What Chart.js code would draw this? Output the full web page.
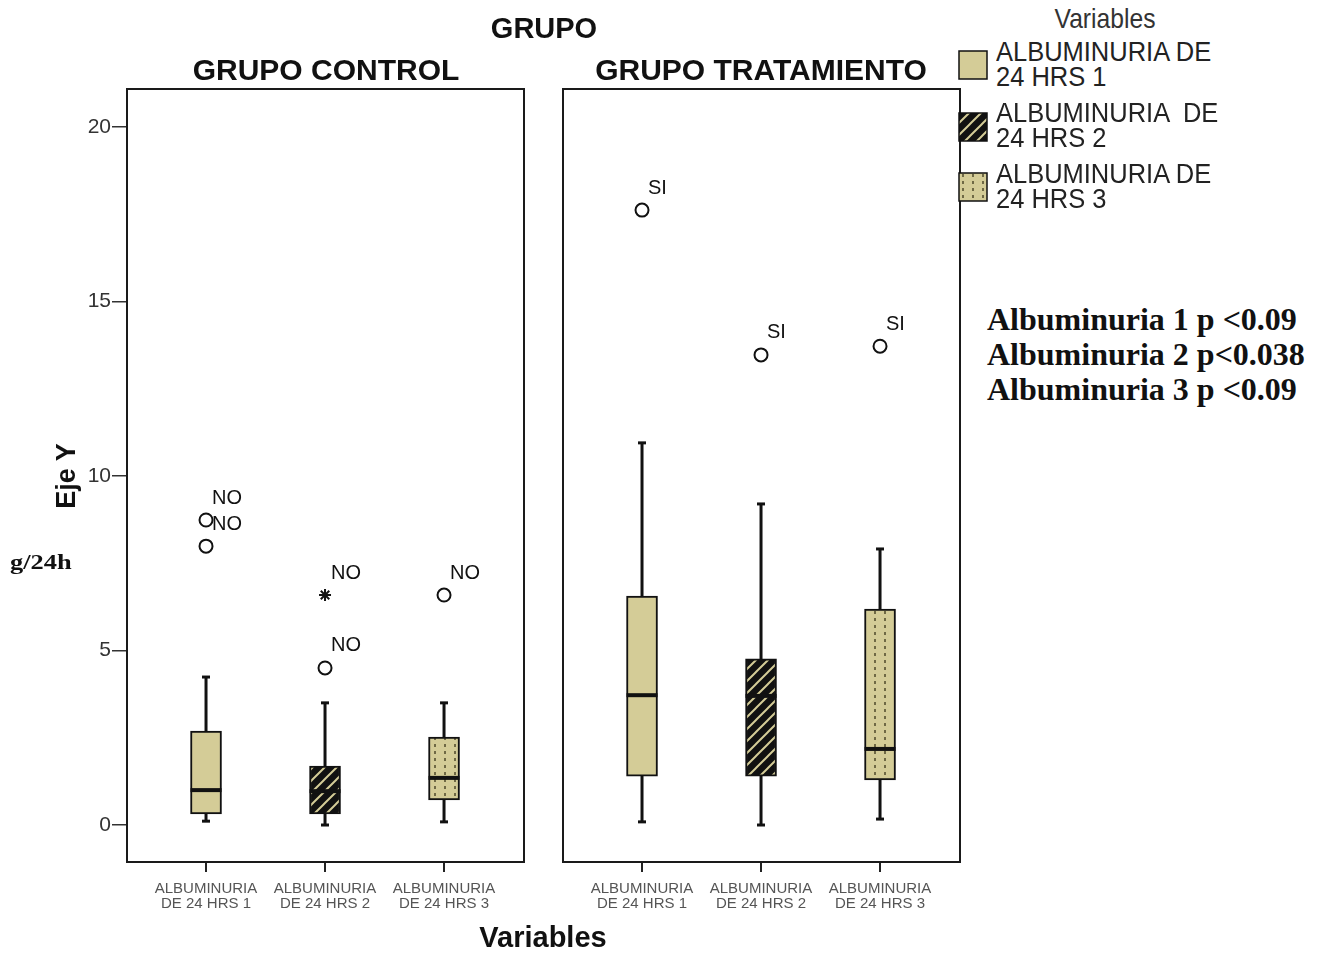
<!DOCTYPE html>
<html>
<head>
<meta charset="utf-8">
<script src="https://cdn.jsdelivr.net/npm/chart.js@4.4.1/dist/chart.umd.min.js"></script>
<style>
    body { margin: 0; background: #fff; width: 1325px; height: 954px; position: relative; overflow: hidden;
           font-family: "Liberation Sans", Arial, sans-serif; color: #111; }
    canvas { position: absolute; top: 0; }
    #controlChart { left: 0; }
    #tratChart { left: 540px; }
    .txt { position: absolute; white-space: nowrap; z-index: 2; }
    .center { transform: translate(-50%, -50%); }
    .title { font-weight: bold; font-size: 29px; }
    .panelTitle { font-weight: bold; font-size: 30px; }
    .legendItem { position: absolute; left: 996px; font-size: 28px; line-height: 25px; color: #222;
                  transform: scaleX(0.91); transform-origin: left top; white-space: pre; z-index: 2; }
    .swatch { position: absolute; left: 958px; z-index: 2; }
    .note { font-family: "Liberation Serif", "Times New Roman", serif; font-weight: bold; }
</style>
</head>
<body>
<canvas id="controlChart" width="540" height="954"></canvas>
<canvas id="tratChart" width="440" height="954"></canvas>

<div class="txt title center" style="left:544px; top:28px;">GRUPO</div>
<div class="txt panelTitle center" style="left:326px; top:70px;">GRUPO CONTROL</div>
<div class="txt panelTitle center" style="left:761px; top:70px;">GRUPO TRATAMIENTO</div>
<div class="txt title center" style="left:543px; top:937px;">Variables</div>
<div class="txt center" style="left:66px; top:476px; font-weight:bold; font-size:27px; transform:translate(-50%,-50%) rotate(-90deg);">Eje Y</div>
<div class="txt note" style="left:10px; top:549px; font-size:22px; transform:scaleX(1.2); transform-origin:left top;">g/24h</div>
<div class="txt center" style="left:1105px; top:19px; font-size:28px; color:#333; transform:translate(-50%,-50%) scaleX(0.88);">Variables</div>
<div class="txt note" style="left:987px; top:302px; font-size:32px; line-height:35px;">
    Albuminuria 1 p &lt;0.09<br>Albuminuria 2 p&lt;0.038<br>Albuminuria 3 p &lt;0.09
</div>
<div id="legend"></div>

<script>
    const categories = [['ALBUMINURIA', 'DE 24 HRS 1'], ['ALBUMINURIA', 'DE 24 HRS 2'], ['ALBUMINURIA', 'DE 24 HRS 3']];
    const legendLabels = [['ALBUMINURIA DE', '24 HRS 1'], ['ALBUMINURIA  DE', '24 HRS 2'], ['ALBUMINURIA DE', '24 HRS 3']];
    const xPositions = [0, 1, 2];
    const yTicks = [0, 5, 10, 15, 20];

    /** GRUPO CONTROL **/
    const controlLow = [0.11, 0.00, 0.09];
    const controlQ1 = [0.32, 0.32, 0.72];
    const controlMedian = [1.00, 0.97, 1.35];
    const controlQ3 = [2.69, 1.69, 2.52];
    const controlHigh = [4.24, 3.50, 3.50];
    const controlOutCat = [0, 0, 1, 1, 2];
    const controlOutValue = [8.74, 7.99, 6.59, 4.50, 6.59];
    const controlOutStyle = ['circle', 'circle', 'star', 'circle', 'circle'];
    const controlOutLabel = ['NO', 'NO', 'NO', 'NO', 'NO'];

    /** GRUPO TRATAMIENTO **/
    const tratLow = [0.09, 0.00, 0.17];
    const tratQ1 = [1.40, 1.40, 1.29];
    const tratMedian = [3.72, 3.70, 2.18];
    const tratQ3 = [6.56, 4.76, 6.19];
    const tratHigh = [10.95, 9.20, 7.91];
    const tratOutCat = [0, 1, 2];
    const tratOutValue = [17.62, 13.47, 13.72];
    const tratOutStyle = ['circle', 'circle', 'circle'];
    const tratOutLabel = ['SI', 'SI', 'SI'];

    const tan = '#d4cc97';
    const ink = '#111';

    function makeHatch()
    {
        const c = document.createElement('canvas');
        c.width = 12; c.height = 12;
        const g = c.getContext('2d');
        g.fillStyle = ink;
        g.fillRect(0, 0, 12, 12);
        g.strokeStyle = tan;
        g.lineWidth = 2;
        g.beginPath();
        g.moveTo(-3, 15); g.lineTo(15, -3);
        g.moveTo(-3, 3); g.lineTo(3, -3);
        g.moveTo(9, 15); g.lineTo(15, 9);
        g.stroke();
        return g.createPattern(c, 'repeat');
    }

    function makeDots()
    {
        const c = document.createElement('canvas');
        c.width = 10; c.height = 7;
        const g = c.getContext('2d');
        g.fillStyle = tan;
        g.fillRect(0, 0, 10, 7);
        g.fillStyle = '#6f6945';
        g.fillRect(4, 2, 2, 3);
        return g.createPattern(c, 'repeat');
    }

    const fills = [tan, makeHatch(), makeDots()];

    /** whiskers, medians, outlier labels and panel frame **/
    const boxParts = {
        id: 'boxParts',
        beforeDatasetsDraw(chart, args, opts) {
            const {ctx, scales: {x, y}} = chart;
            ctx.save();
            ctx.strokeStyle = ink;
            ctx.lineWidth = 3;
            opts.low.forEach((lo, i) => {
                const px = x.getPixelForValue(xPositions[i]);
                ctx.beginPath();
                ctx.moveTo(px, y.getPixelForValue(lo));
                ctx.lineTo(px, y.getPixelForValue(opts.high[i]));
                ctx.stroke();
                [lo, opts.high[i]].forEach(v => {
                    const py = y.getPixelForValue(v);
                    ctx.beginPath();
                    ctx.moveTo(px - 4, py);
                    ctx.lineTo(px + 4, py);
                    ctx.stroke();
                });
            });
            ctx.restore();
        },
        afterDatasetsDraw(chart, args, opts) {
            const {ctx, scales: {x, y}} = chart;
            ctx.save();
            ctx.strokeStyle = ink;
            ctx.lineWidth = 4;
            opts.median.forEach((m, i) => {
                const px = x.getPixelForValue(xPositions[i]);
                const py = y.getPixelForValue(m);
                ctx.beginPath();
                ctx.moveTo(px - 15.5, py);
                ctx.lineTo(px + 15.5, py);
                ctx.stroke();
            });
            ctx.fillStyle = ink;
            ctx.font = '20px "Liberation Sans", Arial, sans-serif';
            ctx.textAlign = 'left';
            ctx.textBaseline = 'middle';
            opts.outLabel.forEach((t, i) => {
                const px = x.getPixelForValue(xPositions[opts.outCat[i]]);
                const py = y.getPixelForValue(opts.outValue[i]);
                ctx.fillText(t, px + 6, py - 22);
            });
            ctx.restore();
        },
        afterDraw(chart) {
            const {ctx, chartArea: a} = chart;
            ctx.save();
            ctx.strokeStyle = '#1a1a1a';
            ctx.lineWidth = 2;
            ctx.strokeRect(a.left, a.top, a.right - a.left, a.bottom - a.top);
            ctx.restore();
        }
    };

    function buildPanel(id, low, q1, median, q3, high, outCat, outValue, outStyle, outLabel, showY, yWidth, padRight)
    {
        return new Chart(document.getElementById(id), {
            type: 'bar',
            data: {
                datasets: [
                    {
                        type: 'scatter',
                        data: outCat.map((c, i) => ({x: xPositions[c], y: outValue[i]})),
                        pointStyle: outStyle,
                        pointRadius: outStyle.map(s => s === 'star' ? 6 : 6.5),
                        pointBorderWidth: 2,
                        pointBackgroundColor: '#fff',
                        pointBorderColor: ink,
                        order: 0
                    },
                    {
                        data: xPositions.map((p, i) => ({x: p, y: [q1[i], q3[i]]})),
                        backgroundColor: fills,
                        borderColor: ink,
                        borderWidth: 2,
                        borderSkipped: false,
                        barThickness: 31,
                        order: 1
                    }
                ]
            },
            options: {
                responsive: false,
                animation: false,
                layout: {padding: {top: 89, right: padRight, bottom: 0, left: 0}},
                plugins: {
                    legend: {display: false},
                    tooltip: {enabled: false},
                    boxParts: {low, high, median, outCat, outValue, outLabel}
                },
                scales: {
                    x: {
                        type: 'linear',
                        min: -0.664,
                        max: 2.672,
                        offset: false,
                        afterBuildTicks: s => { s.ticks = xPositions.map(v => ({value: v})); },
                        afterFit: s => { s.height = 92; },
                        border: {display: false},
                        grid: {display: true, offset: false, drawOnChartArea: false, drawTicks: true,
                               tickLength: 10, color: '#222', lineWidth: 2},
                        ticks: {
                            padding: 9,
                            maxRotation: 0,
                            autoSkip: false,
                            color: '#555',
                            font: {family: '"Liberation Sans", Arial, sans-serif', size: 15, lineHeight: 1.0},
                            callback: v => categories[v]
                        }
                    },
                    y: {
                        min: -1.06,
                        max: 21.09,
                        afterBuildTicks: s => { s.ticks = yTicks.map(v => ({value: v})); },
                        afterFit: s => { s.width = yWidth; },
                        border: {display: false},
                        grid: {display: showY, drawOnChartArea: false, drawTicks: true,
                               tickLength: 15, color: '#333', lineWidth: 1.5},
                        ticks: {
                            display: showY,
                            padding: 1,
                            color: '#333',
                            font: {family: '"Liberation Sans", Arial, sans-serif', size: 21}
                        }
                    }
                }
            },
            plugins: [boxParts]
        });
    }

    function buildLegend()
    {
        const box = document.getElementById('legend');
        const swatchTops = [50, 112, 172];
        const textTops = [39, 100, 161];
        legendLabels.forEach((lines, i) => {
            const c = document.createElement('canvas');
            c.width = 30; c.height = 30;
            c.className = 'swatch';
            c.style.top = swatchTops[i] + 'px';
            const g = c.getContext('2d');
            g.fillStyle = fills[i];
            g.fillRect(1, 1, 28, 28);
            g.strokeStyle = ink;
            g.lineWidth = 1.5;
            g.strokeRect(1, 1, 28, 28);
            box.appendChild(c);

            const t = document.createElement('div');
            t.className = 'legendItem';
            t.style.top = textTops[i] + 'px';
            t.textContent = lines.join('\n');
            box.appendChild(t);
        });
    }

    buildPanel('controlChart', controlLow, controlQ1, controlMedian, controlQ3, controlHigh,
        controlOutCat, controlOutValue, controlOutStyle, controlOutLabel, true, 127, 16);
    buildPanel('tratChart', tratLow, tratQ1, tratMedian, tratQ3, tratHigh,
        tratOutCat, tratOutValue, tratOutStyle, tratOutLabel, false, 23, 20);
    buildLegend();
</script>
</body>
</html>
